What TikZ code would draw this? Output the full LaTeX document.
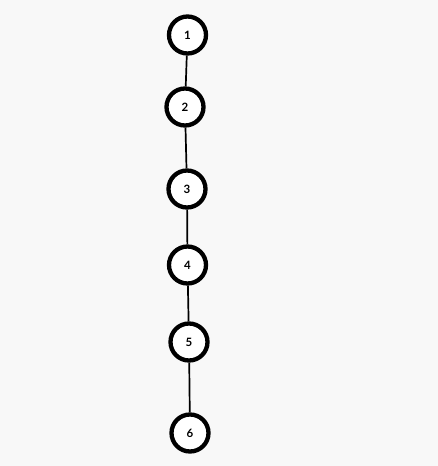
\documentclass[tikz,border=0pt]{standalone}
\usepackage{fontspec}
\setmainfont{Lato}
\usetikzlibrary {positioning}
\definecolor{bgpaper}{HTML}{F8F8F8}
\begin{document}
\begin{tikzpicture}[x=1pt ,y=-1pt ,
    semithick ,
    vertex/.style ={ circle ,fill =white ,
    draw , line width =4.3pt , minimum size =37pt , inner sep =0pt ,
    font =\bfseries\fontsize{11.5}{13}\selectfont},
    link/.style={line width=1.7pt}
    ]
\fill[bgpaper] (0,0) rectangle (438,466);
\useasboundingbox (0,0) rectangle (438,466);

\node[vertex] (V1) at (187.5,35)  {1};
\node[vertex] (V2) at (185,107) {2};
\node[vertex] (V3) at (187,189) {3};
\node[vertex] (V4) at (187.5,265) {4};
\node[vertex] (V5) at (189,342) {5};
\node[vertex] (V6) at (190,433) {6};
\draw[link] (V1) -- (V2);
\draw[link] (V2) -- (V3);
\draw[link] (V3) -- (V4);
\draw[link] (V4) -- (V5);
\draw[link] (V5) -- (V6);
\end{tikzpicture}
\end{document}
